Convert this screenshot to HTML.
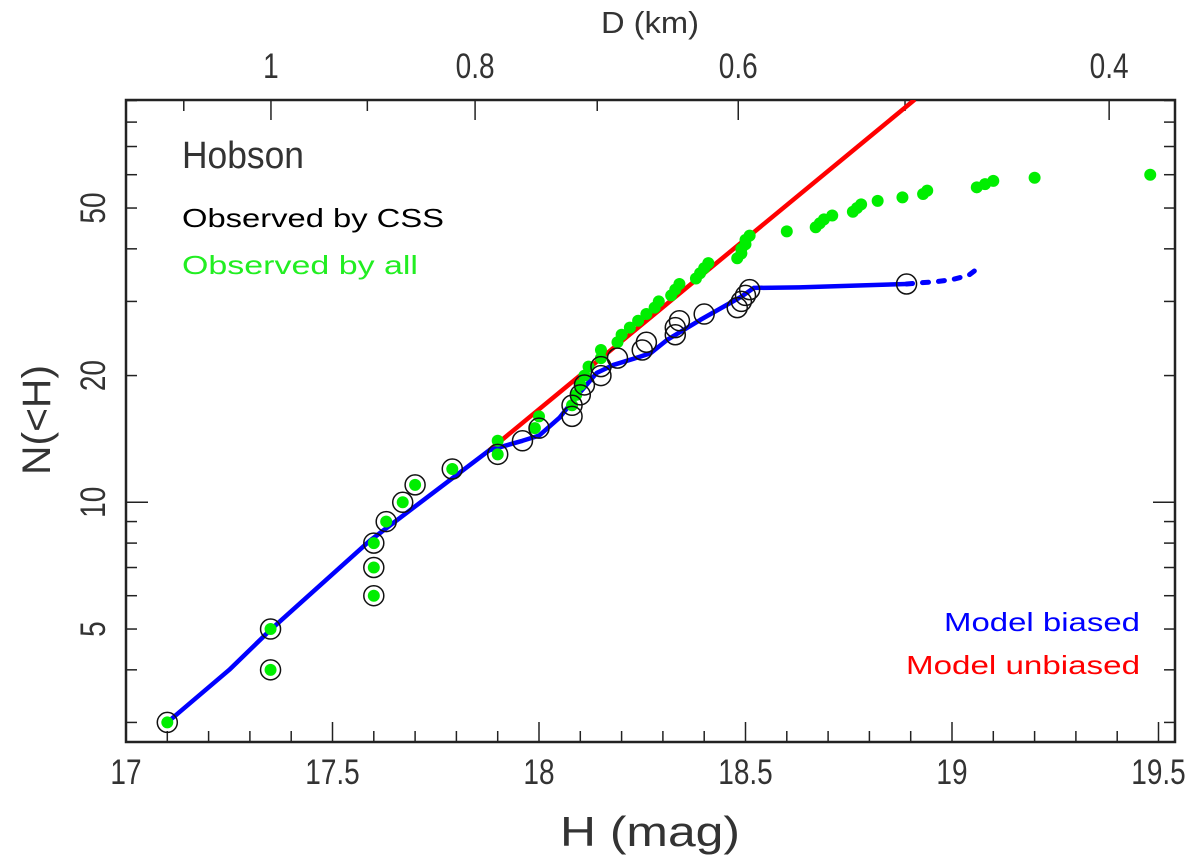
<!DOCTYPE html>
<html><head><meta charset="utf-8">
<style>
html,body{margin:0;padding:0;background:#fff;}
svg{display:block;font-family:"Liberation Sans",sans-serif;}
text{font-weight:normal;}
</style></head>
<body>
<svg id="chart" width="1200" height="863" viewBox="0 0 1200 863" xmlns="http://www.w3.org/2000/svg">
<g id="axes"></g>
<g id="marks"></g>
<text x="182" y="168" font-size="38" fill="#333" textLength="122" lengthAdjust="spacingAndGlyphs">Hobson</text>
<text x="182" y="227" font-size="26" fill="#000" textLength="262" lengthAdjust="spacingAndGlyphs">Observed by CSS</text>
<text x="182" y="274" font-size="26" fill="#22ee22" textLength="236" lengthAdjust="spacingAndGlyphs">Observed by all</text>
<text x="1140" y="631" font-size="26" fill="#0000ff" text-anchor="end" textLength="196" lengthAdjust="spacingAndGlyphs">Model biased</text>
<text x="1140" y="674" font-size="26" fill="#ff0000" text-anchor="end" textLength="234" lengthAdjust="spacingAndGlyphs">Model unbiased</text>
<text x="650" y="846" font-size="42" fill="#333" text-anchor="middle" textLength="180" lengthAdjust="spacingAndGlyphs">H (mag)</text>
<text x="650" y="33" font-size="31" fill="#333" text-anchor="middle" textLength="98" lengthAdjust="spacingAndGlyphs">D (km)</text>
<text transform="translate(50,420) rotate(-90)" font-size="40" fill="#333" text-anchor="middle" textLength="110" lengthAdjust="spacingAndGlyphs">N(&lt;H)</text>
</svg>
<script>
// ---- data ----
const cssH = [17.10,17.35,17.35,17.60,17.60,17.60,17.63,17.67,17.70,17.79,17.90,17.96,18.00,18.08,18.08,18.10,18.11,18.15,18.15,18.19,18.25,18.26,18.33,18.33,18.34,18.40,18.48,18.49,18.50,18.51,18.89];
const cssN = [3,4,5,6,7,8,9,10,11,12,13,14,15,16,17,18,19,20,21,22,23,24,25,26,27,28,29,30,31,32,33];
const allH = [17.10,17.35,17.35,17.60,17.60,17.60,17.63,17.67,17.70,17.79,17.90,17.90,17.99,18.00,18.08,18.09,18.10,18.11,18.12,18.15,18.15,18.19,18.20,18.22,18.24,18.26,18.28,18.29,18.32,18.33,18.34,18.38,18.39,18.40,18.41,18.48,18.49,18.49,18.50,18.50,18.51,18.60,18.67,18.68,18.69,18.71,18.76,18.77,18.78,18.82,18.88,18.93,18.94,19.06,19.08,19.10,19.20,19.48];
const allN = [3,4,5,6,7,8,9,10,11,12,13,14,15,16,17,18,19,20,21,22,23,24,25,26,27,28,29,30,31,32,33,34,35,36,37,38,39,40,41,42,43,44,45,46,47,48,49,50,51,52,53,54,55,56,57,58,59,60];
const biasedH = [17.10,17.25,17.35,17.59,17.88,17.96,18.00,18.05,18.09,18.14,18.18,18.24,18.27,18.31,18.39,18.49,18.52,18.63,18.89];
const biasedN = [3.0,4.0,4.98,8.1,13.3,14.0,14.4,15.9,17.8,20.3,21.2,22.1,22.6,24.3,27.1,30.8,32.3,32.4,33.0];
const biasedExtH = [18.89,18.92,18.96,19.00,19.04,19.07];
const biasedExtN = [33.0,33.2,33.4,33.8,34.6,36.4];
const unbiasedH = [17.88,18.91];
const unbiasedN = [13.3,90.5];
const xTickLabels = [17,17.5,18,18.5,19,19.5];
const yTickLabels = [5,10,20,50];
const dTickLabels = [1,0.8,0.6,0.4];
const dMinorTicks = [1.1,0.9,0.7,0.5];

// ---- scales ----
const L=126,R=1175,T=100,B=742;
const xS = h => L + (h-17)*413;
const yS = n => 502.3 - 421*(Math.log10(n)-1);
const hOfD = d => 17.351 + 5.1*Math.log10(1/d);
const NS='http://www.w3.org/2000/svg';
function mk(tag, attrs, parent){const e=document.createElementNS(NS,tag);for(const k in attrs)e.setAttribute(k,attrs[k]);parent.appendChild(e);return e;}
const axes=document.getElementById('axes'), marks=document.getElementById('marks');

const frame=mk('rect',{x:L,y:T,width:R-L,height:B-T,fill:'none',stroke:'#222','stroke-width':2.5},axes);



// bottom ticks
for(let i=0;i<=25;i++){const h=17+i*0.1;const x=xS(h);if(x>R)break;const major=i%5===0;
 const t=mk('line',{x1:x,x2:x,y1:B,y2:B-(major?20:11),stroke:'#222','stroke-width':1.5},axes);
 
 }
xTickLabels.forEach(v=>{const t=mk('text',{transform:`translate(${xS(v)},784) scale(0.8,1)`,'font-size':35,'text-anchor':'middle',fill:'#333'},axes);t.textContent=String(v);
 
 });

// top D ticks
dTickLabels.concat(dMinorTicks).forEach((d,i)=>{const x=xS(hOfD(d));const major=i<dTickLabels.length;
 const t=mk('line',{x1:x,x2:x,y1:T,y2:T+(major?20:11),stroke:'#222','stroke-width':1.5},axes);
 
 });
dTickLabels.forEach(d=>{const t=mk('text',{transform:`translate(${xS(hOfD(d))},78) scale(0.8,1)`,'font-size':35,'text-anchor':'middle',fill:'#333'},axes);t.textContent=String(d);
 
 });

// y ticks
[3,4,5,6,7,8,9,10,20,30,40,50,60,70,80,90].forEach(n=>{const y=yS(n);
 const len=n===10?22:11;
 const t1=mk('line',{x1:L,x2:L+len,y1:y,y2:y,stroke:'#222','stroke-width':1.5},axes);
 
 
 const t2=mk('line',{x1:R,x2:R-len,y1:y,y2:y,stroke:'#222','stroke-width':1.5},axes);
 
 });
yTickLabels.forEach(n=>{const y=yS(n);const t=mk('text',{transform:`translate(105,${y}) rotate(-90) scale(0.8,1)`,'font-size':35,'text-anchor':'middle',fill:'#333'},axes);t.textContent=String(n);
 
 });

// clip
const defs=mk('defs',{},marks);const cp=mk('clipPath',{id:'clip'},defs);mk('rect',{x:L,y:T,width:R-L,height:B-T},cp);
const g=mk('g',{'clip-path':'url(#clip)'},marks);

// red line
const rp=unbiasedH.map((h,i)=>xS(h)+','+yS(unbiasedN[i])).join(' ');
const red=mk('polyline',{points:rp,fill:'none',stroke:'#ff0000','stroke-width':4.5},g);



// blue line
const bp=biasedH.map((h,i)=>xS(h)+','+yS(biasedN[i])).join(' ');
const blue=mk('polyline',{points:bp,fill:'none',stroke:'#0000ff','stroke-width':4.5,'stroke-linejoin':'round'},g);


const bep=biasedExtH.map((h,i)=>xS(h)+','+yS(biasedExtN[i])).join(' ');
const blue2=mk('polyline',{points:bep,fill:'none',stroke:'#0000ff','stroke-width':5,'stroke-dasharray':'6 10','stroke-linecap':'round'},g);



// green dots
allH.forEach((h,i)=>{const c=mk('circle',{cx:xS(h),cy:yS(allN[i]),r:6,fill:'#00ee00'},g);
 
 });
// css circles
cssH.forEach((h,i)=>{const c=mk('circle',{cx:xS(h),cy:yS(cssN[i]),r:10,fill:'none',stroke:'#111','stroke-width':1.5},g);
 
 });
</script>
</body></html>
